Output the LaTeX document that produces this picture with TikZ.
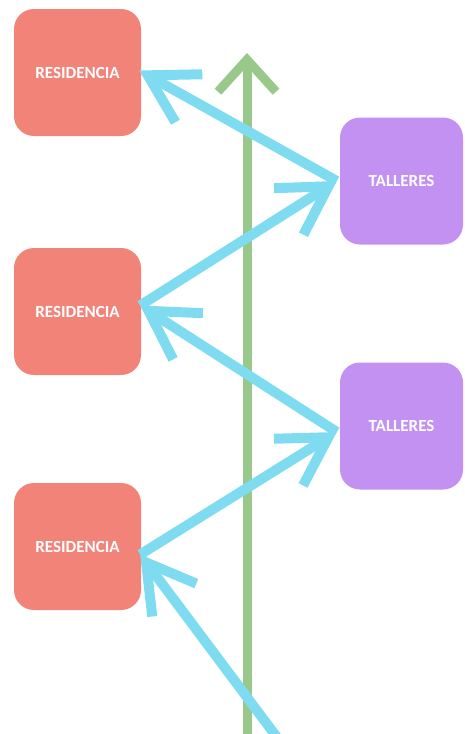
\documentclass[tikz,border=0pt]{standalone}
\usepackage{fontspec}
\setmainfont{Carlito}
\usetikzlibrary{arrows.meta}
\definecolor{resred}{HTML}{F28379}
\definecolor{tallpurple}{HTML}{C391F2}
\definecolor{flowblue}{HTML}{7FDBF0}
\definecolor{axisgreen}{HTML}{98C88A}
\begin{document}
\begin{tikzpicture}[x=1pt,y=-1pt,
  box/.style={rounded corners=20pt, minimum height=127pt, inner sep=0pt,
    text=white, font=\bfseries\fontsize{17}{20}\selectfont},
  res/.style={box, fill=resred, minimum width=127pt},
  tall/.style={box, fill=tallpurple, minimum width=123pt},
  flow/.style={draw=flowblue, line width=10pt,
    -{Straight Barb[length=47pt,width=55pt]}},
  axis/.style={draw=axisgreen, line width=9pt,
    -{Straight Barb[length=32pt,width=58pt]}}]
\useasboundingbox (0,0) rectangle (464,734);
\node[res] (r1) at (77.5,72.5) {RESIDENCIA};
\node[res] (r2) at (77.5,311.5) {RESIDENCIA};
\node[res] (r3) at (77.5,546.5) {RESIDENCIA};
\node[tall] (t1) at (401.5,181) {TALLERES};
\node[tall] (t2) at (401.5,426) {TALLERES};
\coordinate (gb) at (247,740);
\coordinate (gt) at (247,53);
\draw[axis] (gb) -- (gt);
\coordinate (fs) at (279,740);
\coordinate (p3) at ([xshift=-1pt,yshift=-8pt]r3.east);
\coordinate (q2) at ([xshift=-3pt,yshift=-6pt]t2.west);
\coordinate (p2) at ([xshift=-1pt,yshift=6pt]r2.east);
\coordinate (q1) at ([xshift=-3pt,yshift=0pt]t1.west);
\coordinate (p1) at ([xshift=-2pt,yshift=2pt]r1.east);
\draw[flow] (fs) -- (p3);
\draw[flow] (p3) -- (q2);
\draw[flow] (q2) -- (p2);
\draw[flow] (p2) -- (q1);
\draw[flow] (q1) -- (p1);
\end{tikzpicture}
\end{document}
